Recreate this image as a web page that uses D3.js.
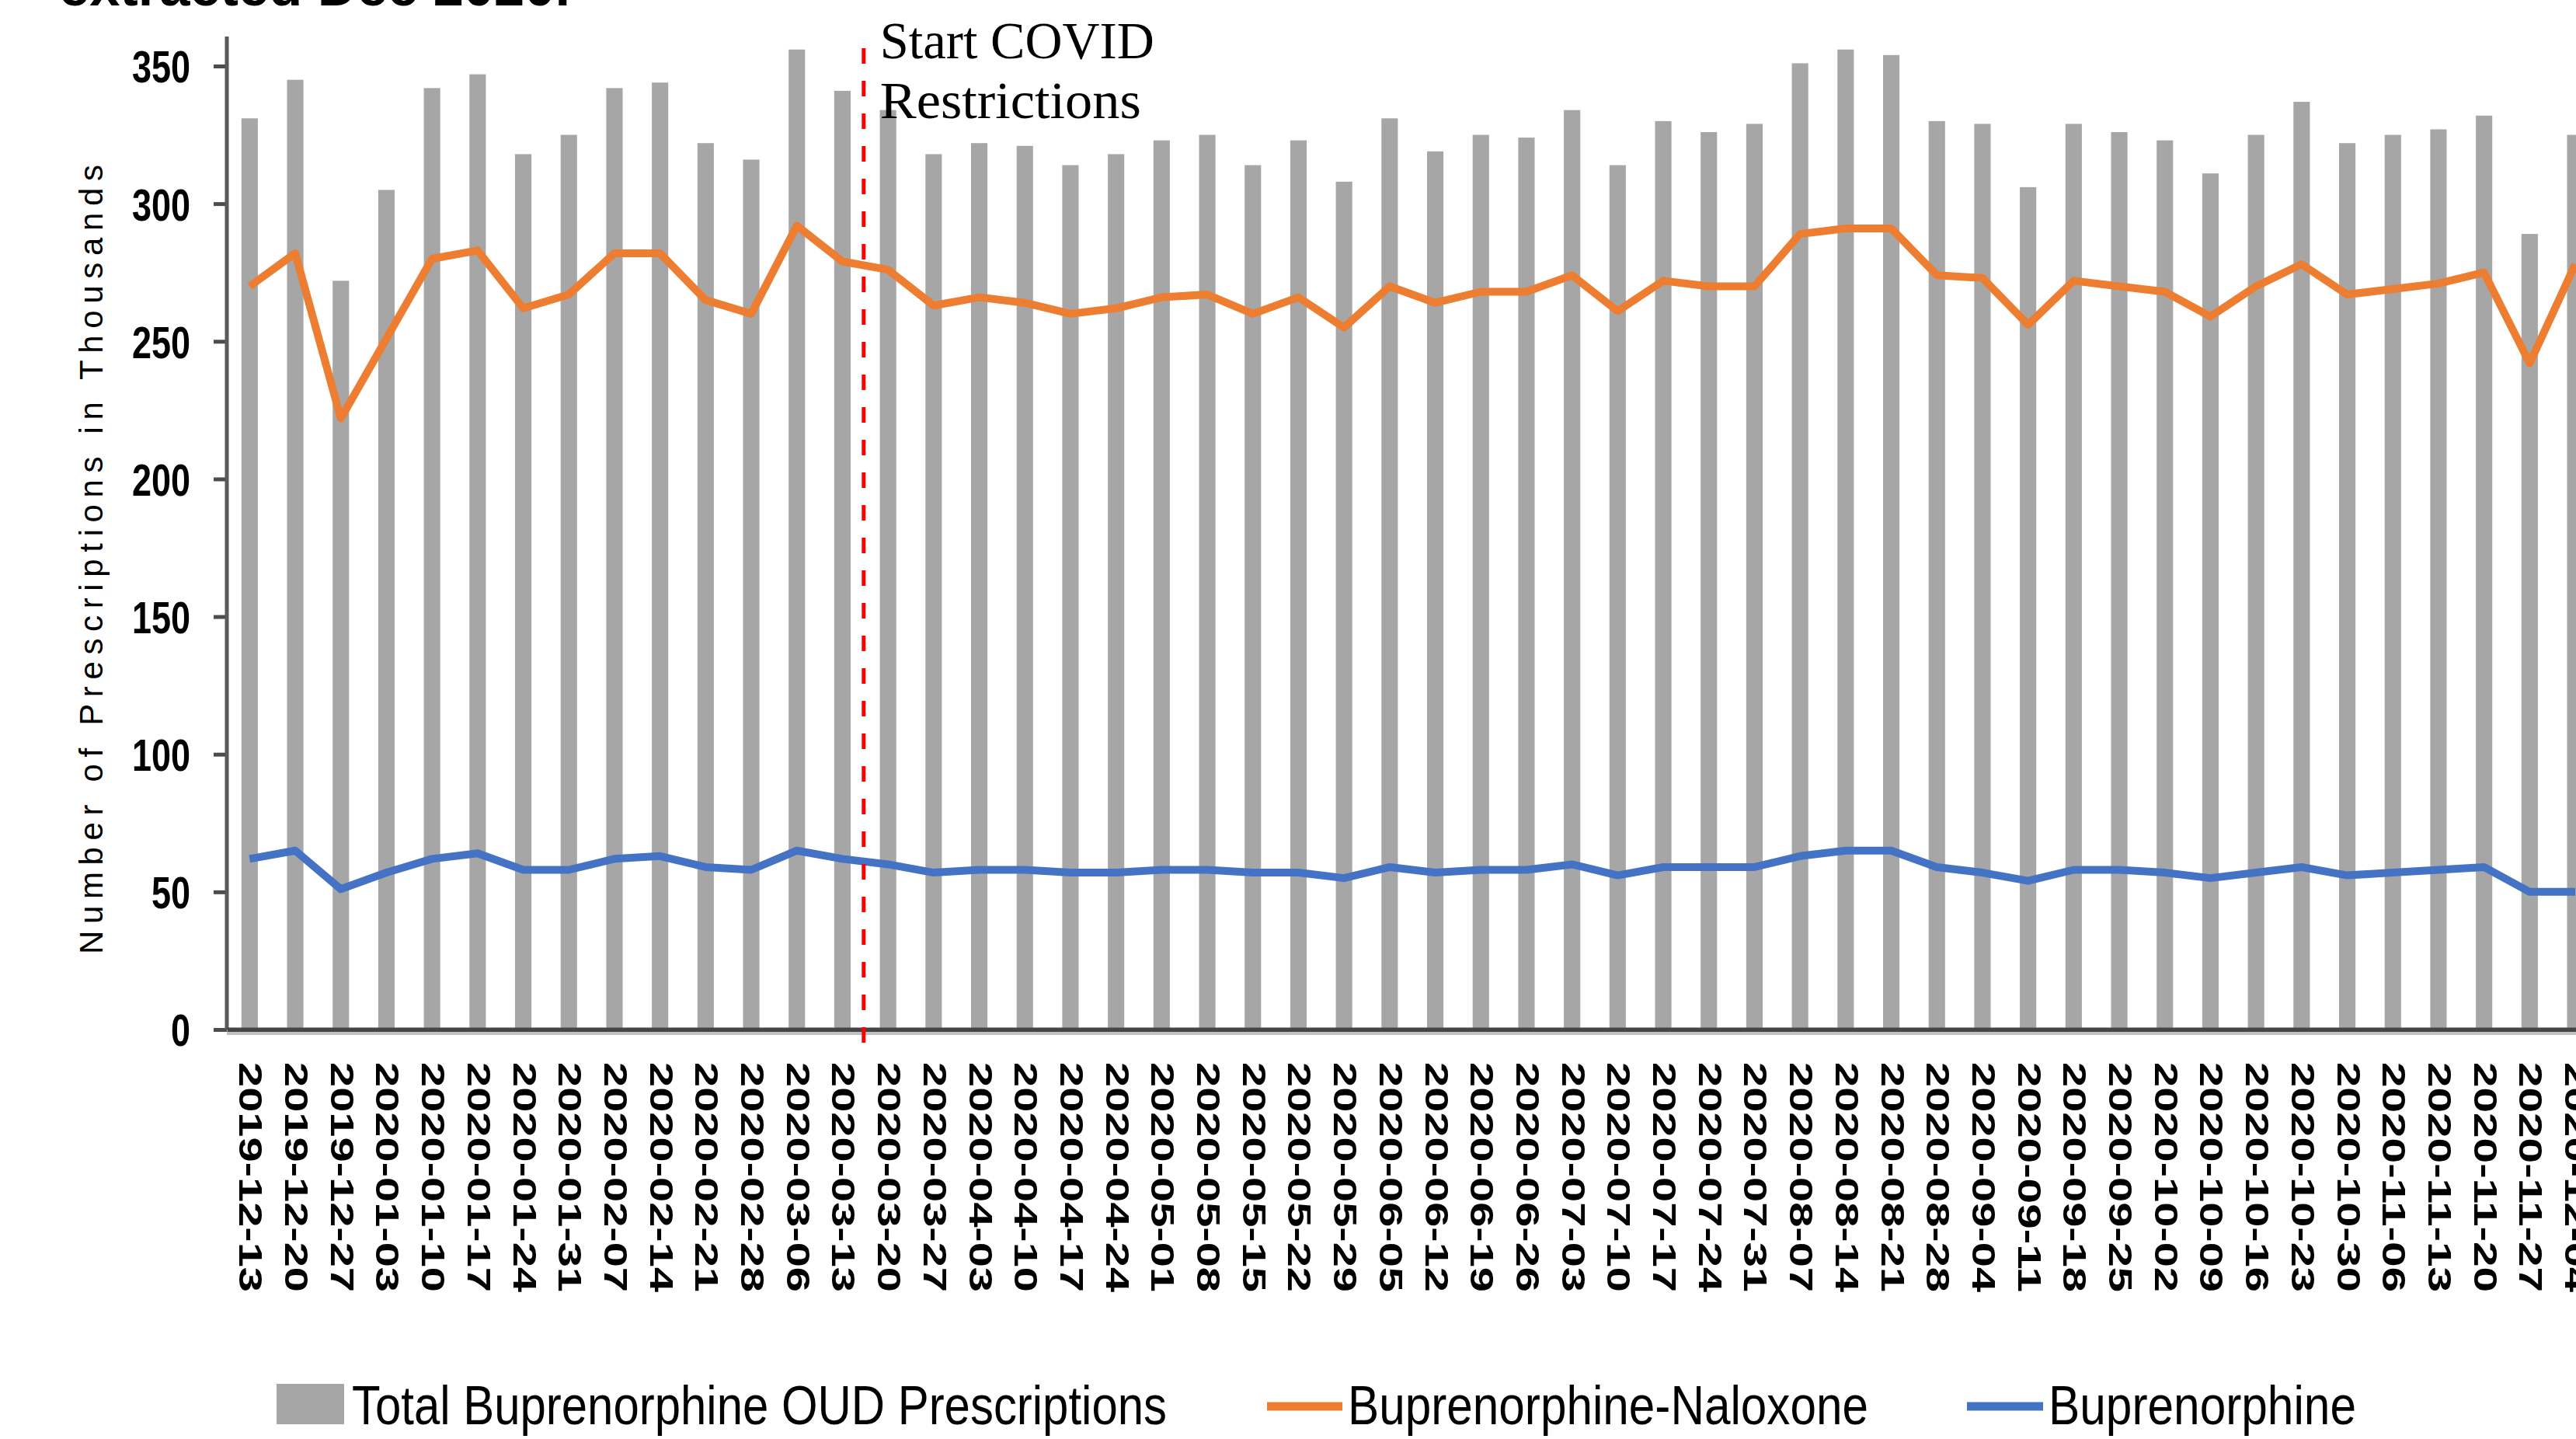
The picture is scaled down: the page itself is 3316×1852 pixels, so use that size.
<!DOCTYPE html>
<html>
<head>
<meta charset="utf-8">
<script src="https://cdn.jsdelivr.net/npm/d3@7"></script>
<style>
  html, body { margin: 0; padding: 0; background: #fff; overflow: hidden; }
  svg { display: block; }
</style>
</head>
<body>
<div id="chart"></div>
<script>
var weeks = [
  "2019-12-13", "2019-12-20", "2019-12-27", "2020-01-03", "2020-01-10", "2020-01-17",
  "2020-01-24", "2020-01-31", "2020-02-07", "2020-02-14", "2020-02-21", "2020-02-28",
  "2020-03-06", "2020-03-13", "2020-03-20", "2020-03-27", "2020-04-03", "2020-04-10",
  "2020-04-17", "2020-04-24", "2020-05-01", "2020-05-08", "2020-05-15", "2020-05-22",
  "2020-05-29", "2020-06-05", "2020-06-12", "2020-06-19", "2020-06-26", "2020-07-03",
  "2020-07-10", "2020-07-17", "2020-07-24", "2020-07-31", "2020-08-07", "2020-08-14",
  "2020-08-21", "2020-08-28", "2020-09-04", "2020-09-11", "2020-09-18", "2020-09-25",
  "2020-10-02", "2020-10-09", "2020-10-16", "2020-10-23", "2020-10-30", "2020-11-06",
  "2020-11-13", "2020-11-20", "2020-11-27", "2020-12-04"
];

// thousands of prescriptions per week
var totalOud = [
  331, 345, 272, 305, 342, 347, 318, 325, 342, 344, 322, 316,
  356, 341, 334, 318, 322, 321, 314, 318, 323, 325, 314, 323,
  308, 331, 319, 325, 324, 334, 314, 330, 326, 329, 351, 356,
  354, 330, 329, 306, 329, 326, 323, 311, 325, 337, 322, 325,
  327, 332, 289, 325
];
var bupNaloxone = [
  270, 282, 222, 251, 280, 283, 262, 267, 282, 282, 265, 260,
  292, 279, 276, 263, 266, 264, 260, 262, 266, 267, 260, 266,
  255, 270, 264, 268, 268, 274, 261, 272, 270, 270, 289, 291,
  291, 274, 273, 256, 272, 270, 268, 259, 270, 278, 267, 269,
  271, 275, 242, 278
];
var bupOnly = [
  62, 65, 51, 57, 62, 64, 58, 58, 62, 63, 59, 58,
  65, 62, 60, 57, 58, 58, 57, 57, 58, 58, 57, 57,
  55, 59, 57, 58, 58, 60, 56, 59, 59, 59, 63, 65,
  65, 59, 57, 54, 58, 58, 57, 55, 57, 59, 56, 57,
  58, 59, 50, 50
];
var yTicks = [0, 50, 100, 150, 200, 250, 300, 350];
var covidWeek = "2020-03-20";
var legendLabels = ["Total Buprenorphine OUD Prescriptions", "Buprenorphine-Naloxone", "Buprenorphine"];

var width = 3316, height = 1852;
var barColor = "#a6a6a6", naloxColor = "#ed7d31", bupColor = "#4472c4";

var svg = d3.select("#chart")
  .append("svg")
  .attr("width", width)
  .attr("height", height);

svg.append("rect").attr("width", width).attr("height", height).attr("fill", "#fff");

var x = d3.scaleBand()
  .domain(weeks)
  .range([292, 292 + 58.7 * weeks.length])
  .paddingInner(0.64)
  .paddingOuter(0.32);

var y = d3.scaleLinear()
  .domain([0, 350])
  .range([1325, 85]);

// cut-off title at the very top
svg.append("text")
  .text("extracted Dec 2020.")
  .attr("x", 76)
  .attr("y", 7)
  .attr("font-family", "Liberation Sans, Arial, sans-serif")
  .attr("font-weight", "bold")
  .attr("font-size", 70)
  .attr("textLength", 658)
  .attr("lengthAdjust", "spacingAndGlyphs")
  .attr("fill", "#000");

// bars
svg.append("g")
  .selectAll("rect")
  .data(weeks)
  .join("rect")
  .attr("x", d => x(d))
  .attr("width", x.bandwidth())
  .attr("y", (d, i) => y(totalOud[i]))
  .attr("height", (d, i) => y(0) - y(totalOud[i]))
  .attr("fill", barColor);

// y axis
var yAxis = svg.append("g")
  .attr("transform", "translate(292,0)")
  .call(d3.axisLeft(y).tickValues(yTicks).tickSize(17).tickSizeOuter(0).tickPadding(30));
yAxis.select(".domain").remove();
yAxis.selectAll(".tick line")
  .attr("stroke", "#4d4d4d")
  .attr("stroke-width", 5);
yAxis.selectAll(".tick text")
  .attr("font-family", "Liberation Sans, Arial, sans-serif")
  .attr("font-weight", "bold")
  .attr("font-size", 58)
  .attr("fill", "#000")
  .attr("dy", "0.36em")
  .attr("textLength", d => String(d).length * 25)
  .attr("lengthAdjust", "spacingAndGlyphs");
svg.append("line")
  .attr("x1", 292).attr("x2", 292)
  .attr("y1", 47).attr("y2", y(0))
  .attr("stroke", "#595959")
  .attr("stroke-width", 5);

// x axis
var xAxis = svg.append("g")
  .attr("transform", "translate(0," + y(0) + ")")
  .call(d3.axisBottom(x).tickSize(0).tickSizeOuter(0));
xAxis.select(".domain")
  .attr("stroke", "#454545")
  .attr("stroke-width", 6);
xAxis.append("line")
  .attr("x1", 292).attr("x2", width)
  .attr("y1", 5).attr("y2", 5)
  .attr("stroke", "#c0c0c0")
  .attr("stroke-width", 4);
xAxis.selectAll(".tick text")
  .attr("transform", "rotate(90)")
  .attr("x", 42)
  .attr("y", 13)
  .attr("dy", 0)
  .attr("text-anchor", "start")
  .attr("font-family", "Liberation Sans, Arial, sans-serif")
  .attr("font-weight", "bold")
  .attr("font-size", 42)
  .attr("fill", "#000")
  .attr("textLength", 296)
  .attr("lengthAdjust", "spacingAndGlyphs");

// y axis title
svg.append("text")
  .text("Number of Prescriptions in Thousands")
  .attr("transform", "translate(132,720) rotate(-90)")
  .attr("text-anchor", "middle")
  .attr("font-family", "Liberation Sans, Arial, sans-serif")
  .attr("font-size", 42)
  .attr("fill", "#000")
  .attr("textLength", 1016)
  .attr("lengthAdjust", "spacing");

// lines
var line = d3.line()
  .x((d, i) => x(weeks[i]) + x.bandwidth() / 2)
  .y(d => y(d));

svg.append("path")
  .datum(bupNaloxone)
  .attr("d", line)
  .attr("fill", "none")
  .attr("stroke", naloxColor)
  .attr("stroke-width", 10)
  .attr("stroke-linejoin", "round");

svg.append("path")
  .datum(bupOnly)
  .attr("d", line)
  .attr("fill", "none")
  .attr("stroke", bupColor)
  .attr("stroke-width", 10)
  .attr("stroke-linejoin", "round");

// COVID marker
var covidX = x(covidWeek) - x.step() * x.paddingInner() / 2 - 2;
svg.append("line")
  .attr("x1", covidX).attr("x2", covidX)
  .attr("y1", 62).attr("y2", y(0) + 17)
  .attr("stroke", "#ff0000")
  .attr("stroke-width", 5)
  .attr("stroke-dasharray", "20,22");

var note = svg.append("text")
  .attr("font-family", "Liberation Serif, Times New Roman, serif")
  .attr("font-size", 68)
  .attr("fill", "#000");
note.append("tspan").text("Start COVID")
  .attr("x", covidX + 21).attr("y", 75)
  .attr("textLength", 353).attr("lengthAdjust", "spacingAndGlyphs");
note.append("tspan").text("Restrictions")
  .attr("x", covidX + 21).attr("y", 152)
  .attr("textLength", 336).attr("lengthAdjust", "spacingAndGlyphs");

// legend
var legend = svg.append("g")
  .attr("font-family", "Liberation Sans, Arial, sans-serif")
  .attr("font-size", 71)
  .attr("fill", "#000");

legend.append("rect")
  .attr("x", 356).attr("y", 1781)
  .attr("width", 87).attr("height", 52)
  .attr("fill", barColor);
legend.append("text").text(legendLabels[0])
  .attr("x", 453).attr("y", 1833)
  .attr("textLength", 1049).attr("lengthAdjust", "spacingAndGlyphs");

legend.append("line")
  .attr("x1", 1631).attr("x2", 1728)
  .attr("y1", 1810).attr("y2", 1810)
  .attr("stroke", naloxColor).attr("stroke-width", 11);
legend.append("text").text(legendLabels[1])
  .attr("x", 1735).attr("y", 1833)
  .attr("textLength", 670).attr("lengthAdjust", "spacingAndGlyphs");

legend.append("line")
  .attr("x1", 2532).attr("x2", 2630)
  .attr("y1", 1810).attr("y2", 1810)
  .attr("stroke", bupColor).attr("stroke-width", 11);
legend.append("text").text(legendLabels[2])
  .attr("x", 2637).attr("y", 1833)
  .attr("textLength", 396).attr("lengthAdjust", "spacingAndGlyphs");
</script>
</body>
</html>
